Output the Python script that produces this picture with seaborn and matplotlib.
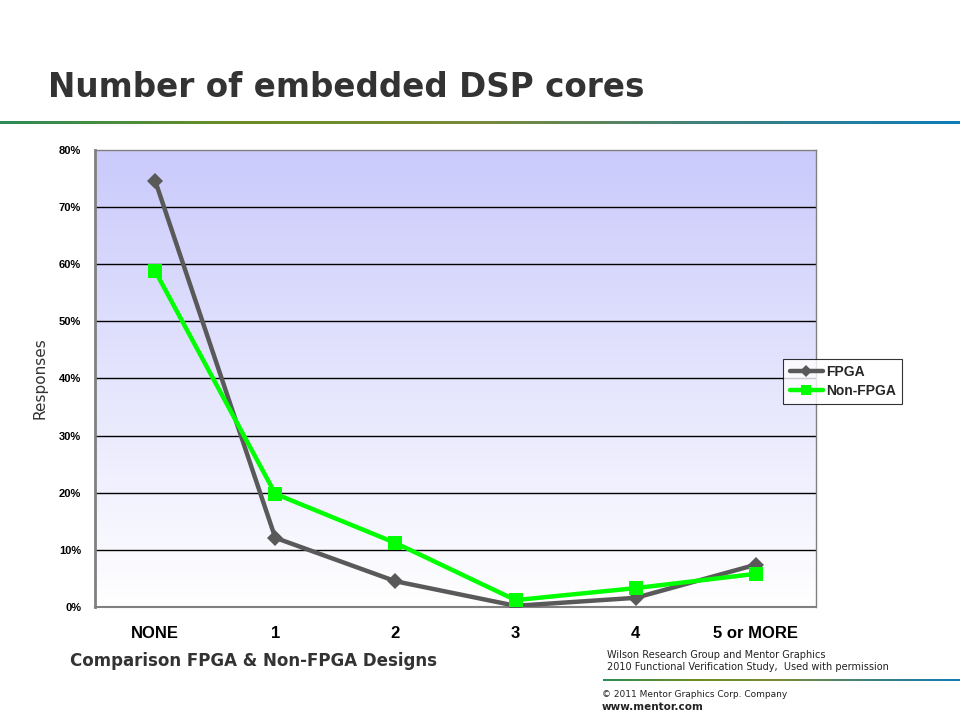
# Number of embedded DSP cores - FPGA vs Non-FPGA

import numpy as np
import pandas as pd
import matplotlib
matplotlib.use("Agg")
import matplotlib.pyplot as plt
from matplotlib.colors import LinearSegmentedColormap
from matplotlib.ticker import FuncFormatter
import seaborn as sns

# Data
categories = ["NONE", "1", "2", "3", "4", "5 or MORE"]
fpga = [74.6, 12.1, 4.5, 0.2, 1.6, 7.4]
non_fpga = [58.8, 19.8, 11.2, 1.2, 3.3, 5.8]

df = pd.DataFrame({
    "pos": list(np.arange(len(categories)) + 0.5) * 2,
    "value": fpga + non_fpga,
    "series": ["FPGA"] * len(categories) + ["Non-FPGA"] * len(categories),
})

sns.set_style("white")
plt.rcParams["font.family"] = ["Liberation Sans Narrow", "Liberation Sans", "DejaVu Sans"]

fig = plt.figure(figsize=(9.6, 7.2), dpi=100)
ax = fig.add_axes([0.099, 0.157, 0.751, 0.635])

# gradient background (lavender at top, white at bottom)
cmap = LinearSegmentedColormap.from_list("bg", ["#FFFFFF", "#CACAFC"])
grad = np.linspace(0, 1, 256).reshape(-1, 1)
ax.imshow(grad, cmap=cmap, aspect="auto", extent=[0, 6, 0, 80],
          origin="lower", zorder=0)

for yv in range(10, 80, 10):
    ax.axhline(yv, color="black", lw=1.0, zorder=1)

sns.lineplot(data=df, x="pos", y="value", hue="series", style="series",
             palette={"FPGA": "#595959", "Non-FPGA": "#00FF00"},
             markers={"FPGA": "D", "Non-FPGA": "s"}, dashes=False,
             linewidth=3.2, markersize=9, markeredgewidth=0,
             ax=ax, zorder=3)
# make square marker a bit bigger, diamond a bit smaller
for line in ax.get_lines():
    if line.get_marker() == "s":
        line.set_markersize(10)
    elif line.get_marker() == "D":
        line.set_markersize(8)

ax.set_xlim(0, 6)
ax.set_ylim(0, 80)
ax.set_xticks(range(7))
ax.set_xticklabels([])
ax.set_xticks(np.arange(6) + 0.5, minor=True)
ax.set_xticklabels(categories, minor=True, fontsize=12, fontweight="bold", color="black")
ax.tick_params(axis="x", which="minor", length=0, pad=14)
ax.tick_params(axis="x", which="major", length=4, color="#808080", direction="out")
ax.set_yticks(range(0, 81, 10))
ax.yaxis.set_major_formatter(FuncFormatter(lambda v, p: f"{int(v)}%"))
ax.tick_params(axis="y", length=4, color="#808080", direction="out",
               labelsize=8, pad=6, labelcolor="black")
for lbl in ax.get_yticklabels():
    lbl.set_fontweight("bold")

ax.set_xlabel("")
ax.set_ylabel("Responses", fontsize=11, family="DejaVu Sans", color="#333333", labelpad=8)

for side in ["top", "right"]:
    ax.spines[side].set_color("#808080")
    ax.spines[side].set_linewidth(1.0)
ax.spines["left"].set_color("#808080")
ax.spines["left"].set_linewidth(2.0)
ax.spines["bottom"].set_color("#808080")
ax.spines["bottom"].set_linewidth(1.5)

leg = ax.legend(loc="upper left", bbox_to_anchor=(0.945, 0.558), frameon=True,
                fancybox=False, edgecolor="black", borderpad=0.45,
                handlelength=2.4, handletextpad=0.2, labelspacing=0.35,
                markerscale=0.75, prop={"weight": "bold", "size": 10})
leg.get_frame().set_linewidth(0.8)
leg.set_title(None)

# title and decoration lines
fig.text(0.05, 0.878, "Number of embedded DSP cores", fontsize=23.5, fontweight="bold",
         color="#333333", family="DejaVu Sans", va="center")

line_cmap = LinearSegmentedColormap.from_list(
    "deco", ["#2E8B57", "#6B8E23", "#7A8A3A", "#3E8080", "#0E7DB8"])
lax = fig.add_axes([0.0, 0.828, 1.0, 0.004])
lax.imshow(np.linspace(0, 1, 256).reshape(1, -1), cmap=line_cmap, aspect="auto")
lax.axis("off")
lax2 = fig.add_axes([0.628, 0.054, 0.372, 0.003])
lax2.imshow(np.linspace(0, 1, 256).reshape(1, -1), cmap=line_cmap, aspect="auto")
lax2.axis("off")

fig.text(0.073, 0.082, "Comparison FPGA & Non-FPGA Designs", fontsize=12,
         fontweight="bold", color="#333333", family="DejaVu Sans", va="center")
fig.text(0.632, 0.090, "Wilson Research Group and Mentor Graphics", fontsize=7,
         color="#222222", family="DejaVu Sans", va="center")
fig.text(0.632, 0.073, "2010 Functional Verification Study,  Used with permission",
         fontsize=7, color="#222222", family="DejaVu Sans", va="center")
fig.text(0.627, 0.036, "\u00a9 2011 Mentor Graphics Corp. Company", fontsize=6.5,
         color="#222222", family="DejaVu Sans", va="center")
fig.text(0.627, 0.018, "www.mentor.com", fontsize=7.5, fontweight="bold",
         color="#222222", family="DejaVu Sans", va="center")

fig.savefig("out.png", dpi=100)
